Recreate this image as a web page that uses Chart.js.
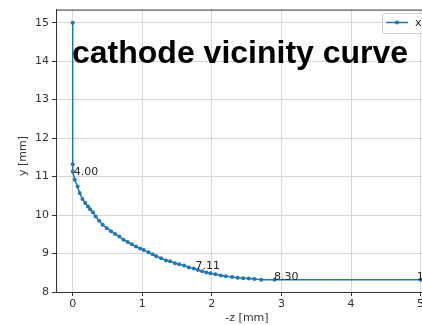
<!DOCTYPE html>
<html>
<head>
<meta charset="utf-8">
<script src="https://cdn.jsdelivr.net/npm/chart.js@4"></script>
<style>
  html, body { margin: 0; padding: 0; background: #fff; overflow: hidden; }
  #wrap { width: 422px; height: 325px; overflow: hidden; }
</style>
</head>
<body>
<div id="wrap"><canvas id="c" width="470" height="325"></canvas></div>
<script>
// curve points
const zVals = [0, 0, 0, 0.03, 0.07, 0.10, 0.14, 0.18, 0.22, 0.25, 0.29, 0.33, 0.38, 0.43, 0.49, 0.55, 0.61,
  0.67, 0.73, 0.79, 0.85, 0.91, 0.97, 1.02, 1.09, 1.15, 1.20, 1.27, 1.34, 1.40, 1.47, 1.53, 1.60,
  1.67, 1.74, 1.80, 1.86, 1.92, 1.98, 2.05, 2.13, 2.20, 2.29, 2.37, 2.45, 2.53, 2.61, 2.71, 2.90, 5.0];
const yVals = [15, 11.32, 11.13, 10.92, 10.74, 10.57, 10.42, 10.31, 10.22, 10.15, 10.07, 9.96, 9.85, 9.75, 9.66, 9.58, 9.51,
  9.44, 9.36, 9.30, 9.24, 9.18, 9.13, 9.09, 9.03, 8.98, 8.93, 8.88, 8.82, 8.80, 8.75, 8.72, 8.69,
  8.64, 8.61, 8.57, 8.54, 8.51, 8.49, 8.46, 8.43, 8.41, 8.39, 8.37, 8.36, 8.35, 8.34, 8.32, 8.32, 8.32];

// text labels along the curve
const labelZ = [0.0, 1.75, 2.88, 4.93];
const labelY = [11.05, 8.60, 8.32, 8.32];
const labelText = ["4.00", "7.11", "8.30", "10.00"];

const xTicks = [0, 1, 2, 3, 4, 5];
const yTicks = [8, 9, 10, 11, 12, 13, 14, 15];

const blue = '#1f77b4';
const tickFont = { family: 'DejaVu Sans', size: 11 };

let pts = zVals.map((z, i) => ({ x: z, y: yVals[i] }));

const extras = {
  id: 'extras',
  afterDraw(chart) {
    let ctx = chart.ctx;
    let a = chart.chartArea;
    let sx = chart.scales.x, sy = chart.scales.y;
    ctx.save();
    // top spine
    ctx.strokeStyle = '#333';
    ctx.lineWidth = 1;
    ctx.beginPath();
    ctx.moveTo(a.left, a.top + 0.5);
    ctx.lineTo(a.right, a.top + 0.5);
    ctx.stroke();

    // point labels
    ctx.fillStyle = '#222';
    ctx.font = '11px "DejaVu Sans"';
    ctx.textAlign = 'left';
    ctx.textBaseline = 'alphabetic';
    for (let i = 0; i < labelText.length; i++) {
      ctx.fillText(labelText[i], sx.getPixelForValue(labelZ[i]) + 1, sy.getPixelForValue(labelY[i]));
    }

    // y axis title
    ctx.save();
    ctx.translate(23, 156);
    ctx.rotate(-Math.PI / 2);
    ctx.textAlign = 'center';
    ctx.textBaseline = 'middle';
    ctx.fillStyle = '#333';
    ctx.fillText('y [mm]', 0, 0);
    ctx.restore();

    // big title
    ctx.fillStyle = '#000';
    ctx.font = 'bold 32px "Liberation Sans", Arial, sans-serif';
    ctx.fillText('cathode vicinity curve', 72, 63);

    // legend box
    ctx.fillStyle = 'rgba(255,255,255,0.8)';
    ctx.strokeStyle = '#d0d0d0';
    ctx.beginPath();
    ctx.roundRect(382.5, 13.5, 50, 20, 2);
    ctx.fill();
    ctx.stroke();
    ctx.strokeStyle = blue;
    ctx.lineWidth = 1.5;
    ctx.beginPath();
    ctx.moveTo(386, 22.5);
    ctx.lineTo(408, 22.5);
    ctx.stroke();
    ctx.fillStyle = blue;
    ctx.beginPath();
    ctx.arc(397, 22.5, 2, 0, Math.PI * 2);
    ctx.fill();
    ctx.fillStyle = '#222';
    ctx.font = '11px "DejaVu Sans"';
    ctx.textBaseline = 'middle';
    ctx.fillText('x', 415, 23);
    ctx.restore();
  }
};

new Chart(document.getElementById('c'), {
  type: 'scatter',
  data: {
    datasets: [{
      label: 'x',
      data: pts,
      showLine: true,
      borderColor: blue,
      borderWidth: 1.5,
      backgroundColor: blue,
      pointRadius: 2,
      pointBorderWidth: 0,
      pointBackgroundColor: blue
    }]
  },
  options: {
    responsive: false,
    animation: false,
    layout: { padding: { left: 0, top: 8, right: 32, bottom: 0 } },
    plugins: { legend: { display: false }, tooltip: { enabled: false } },
    scales: {
      x: {
        type: 'linear',
        min: -0.24,
        max: 5.25,
        afterBuildTicks: s => { s.ticks = xTicks.map(v => ({ value: v })); },
        afterFit: s => { s.height = 33; },
        ticks: { font: tickFont, color: '#333', padding: 2, maxRotation: 0 },
        grid: { color: '#d6d6d6', tickColor: '#333', tickLength: 4 },
        border: { color: '#333', width: 1 },
        title: { display: true, text: '-z [mm]', font: tickFont, color: '#333', padding: { top: 0, bottom: 0 } }
      },
      y: {
        min: 8,
        max: 15.34,
        afterBuildTicks: s => { s.ticks = yTicks.map(v => ({ value: v })); },
        afterFit: s => { s.width = 56; },
        ticks: { font: tickFont, color: '#333', padding: 3 },
        grid: { color: '#d6d6d6', tickColor: '#333', tickLength: 4 },
        border: { color: '#333', width: 1 }
      }
    }
  },
  plugins: [extras]
});
</script>
</body>
</html>
